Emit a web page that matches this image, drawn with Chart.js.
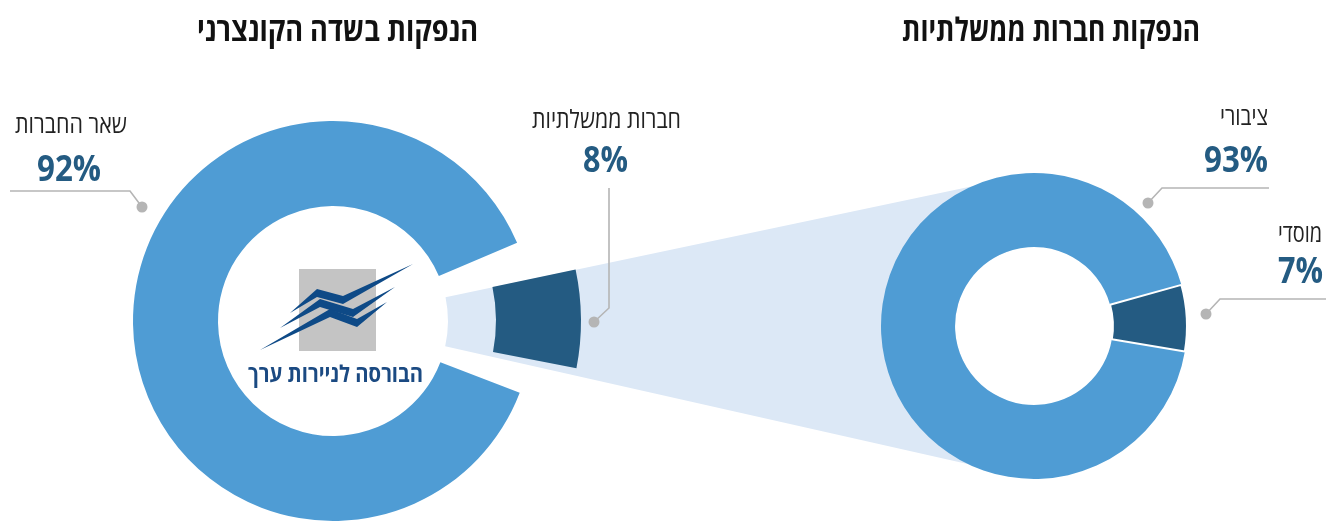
<!DOCTYPE html>
<html lang="he">
<head>
<meta charset="utf-8">
<script src="https://cdn.jsdelivr.net/npm/chart.js@4.4.1/dist/chart.umd.min.js"></script>
<style>
  html, body { margin: 0; padding: 0; background: #fff; }
  body { width: 1326px; height: 521px; overflow: hidden; position: relative; }
  canvas, svg { position: absolute; }
</style>
</head>
<body>
<canvas id="halo" width="1400" height="1400" style="left:-367px;top:-379px"></canvas>
<canvas id="market" width="520" height="520" style="left:73px;top:61px"></canvas>
<canvas id="govSlice" width="520" height="520" style="left:73px;top:61px"></canvas>
<canvas id="gov" width="340" height="340" style="left:864px;top:156px"></canvas>
<svg id="overlay" width="1326" height="521" style="left:0;top:0" xmlns="http://www.w3.org/2000/svg"></svg>

<script>
// data
const titles = ["הנפקות בשדה הקונצרני", "הנפקות חברות ממשלתיות"];
const marketLabels = ["שאר החברות", "חברות ממשלתיות"];
const marketValues = [92, 8];
const govLabels = ["ציבורי", "מוסדי"];
const govValues = [93, 7];
const logoText = "הבורסה לניירות ערך";

const LIGHT = "#4f9cd4";
const DARK = "#245b82";
const HALO = "#dce8f6";
const NONE = "rgba(0,0,0,0)";

const total = arr => arr.reduce((a, b) => a + b, 0);
const govShare = marketValues[1] / total(marketValues);

// sweep so that the government slice spans `deg` degrees, centred near 3 o'clock
const sweepFor = deg => deg / govShare;
const rotationFor = (sweep, center) => 90 + (center || 0) - sweep * (1 - govShare / 2);

function opts(radius, cutout, rotation, circumference) {
  return {
    responsive: false,
    animation: false,
    events: [],
    layout: { padding: 0 },
    radius: radius,
    cutout: cutout,
    rotation: rotation,
    circumference: circumference,
    plugins: { legend: { display: false }, tooltip: { enabled: false } }
  };
}

// light band that links the exploded slice to the right donut
const haloSweep = sweepFor(24.6);
new Chart(document.getElementById("halo"), {
  type: "doughnut",
  data: { labels: marketLabels, datasets: [{ data: marketValues, backgroundColor: [NONE, HALO], borderWidth: 0 }] },
  options: opts(680, (115 / 680 * 100) + "%", rotationFor(haloSweep, 0.4), haloSweep)
});

// main ring with the gap
const ringSweep = 316 / (1 - govShare);
new Chart(document.getElementById("market"), {
  type: "doughnut",
  data: { labels: marketLabels, datasets: [{ data: marketValues, backgroundColor: [LIGHT, NONE], borderWidth: 0 }] },
  options: opts(200, "57.5%", 90 + 21, ringSweep)
});

// exploded government slice
const sliceSweep = sweepFor(23);
new Chart(document.getElementById("govSlice"), {
  type: "doughnut",
  data: { labels: marketLabels, datasets: [{ data: marketValues, backgroundColor: [NONE, DARK], borderWidth: 0 }] },
  options: opts(248, (163 / 248 * 100) + "%", rotationFor(sliceSweep, -0.5), sliceSweep)
});

// right donut, white hole covers the band
const holeFill = {
  id: "holeFill",
  beforeDatasetsDraw(chart) {
    const arc = chart.getDatasetMeta(0).data[0];
    const ctx = chart.ctx;
    ctx.save();
    ctx.fillStyle = "#fff";
    ctx.beginPath();
    ctx.arc(arc.x, arc.y, arc.innerRadius, 0, Math.PI * 2);
    ctx.fill();
    ctx.restore();
  }
};
const govTotal = total(govValues);
new Chart(document.getElementById("gov"), {
  type: "doughnut",
  data: { labels: govLabels, datasets: [{ data: govValues, backgroundColor: [LIGHT, DARK], borderWidth: [0, 2], borderColor: "#fff" }] },
  options: opts(153, "51.6%", 90 - 3 - 360 * (1 - govValues[1] / govTotal / 2), 360),
  plugins: [holeFill]
});

// texts, leaders and logo
const svg = document.getElementById("overlay");
const NS = "http://www.w3.org/2000/svg";
function el(name, attrs, text) {
  const e = document.createElementNS(NS, name);
  for (const k in attrs) e.setAttribute(k, attrs[k]);
  if (text !== undefined) e.textContent = text;
  svg.appendChild(e);
  return e;
}
function label(text, x, y, size, weight, width, fill) {
  el("text", {
    x: x, y: y, "text-anchor": "middle", "font-family": "'Open Sans', 'DejaVu Sans', sans-serif",
    "font-size": size, "font-weight": weight, fill: fill,
    textLength: width, lengthAdjust: "spacingAndGlyphs"
  }, text);
}
const pct = v => v + "%";

label(titles[0], 337.5, 41, 32, 700, 281, "#111");
label(titles[1], 1051, 41, 32, 700, 298, "#111");

label(marketLabels[0], 71, 133, 25, 400, 112, "#222");
label(pct(marketValues[0]), 69, 181, 36, 700, 64, DARK);
label(marketLabels[1], 606.5, 128, 25, 400, 149, "#222");
label(pct(marketValues[1]), 605.5, 172, 36, 700, 45, DARK);
label(govLabels[0], 1244, 125, 25, 400, 48, "#222");
label(pct(govValues[0]), 1236, 172, 36, 700, 64, DARK);
label(govLabels[1], 1300, 242, 25, 400, 44, "#222");
label(pct(govValues[1]), 1300.5, 283, 36, 700, 45, DARK);

const leaders = [
  [[10, 191], [130, 191], [142, 207]],
  [[609, 188], [609, 308], [594, 322]],
  [[1269, 188], [1162, 188], [1148, 203]],
  [[1326, 299], [1220, 299], [1206, 314]]
];
leaders.forEach(pts => {
  el("polyline", { points: pts.map(p => p.join(",")).join(" "), fill: "none", stroke: "#b5b5b5", "stroke-width": 1.6 });
  const d = pts[pts.length - 1];
  el("circle", { cx: d[0], cy: d[1], r: 5.5, fill: "#b5b5b5" });
});

// logo
el("rect", { x: 299, y: 269, width: 77, height: 82, fill: "#c4c4c4" });
const stripes = [
  [[290, 313], [317, 293], [343, 300], [413, 264]],
  [[280, 328], [320, 303], [353, 313], [395, 287]],
  [[260, 350], [330, 313], [357, 323], [387, 302]]
];
stripes.forEach(s => {
  const t = 4;
  const top = [s[0], [s[1][0], s[1][1] - t], [s[2][0], s[2][1] - t], s[3]];
  const bot = [s[3], [s[2][0], s[2][1] + t], [s[1][0], s[1][1] + t], s[0]];
  el("polygon", { points: top.concat(bot).map(p => p.join(",")).join(" "), fill: "#0e4a87" });
});
label(logoText, 335.5, 382, 23, 700, 175, "#1b4a82");
</script>
</body>
</html>
